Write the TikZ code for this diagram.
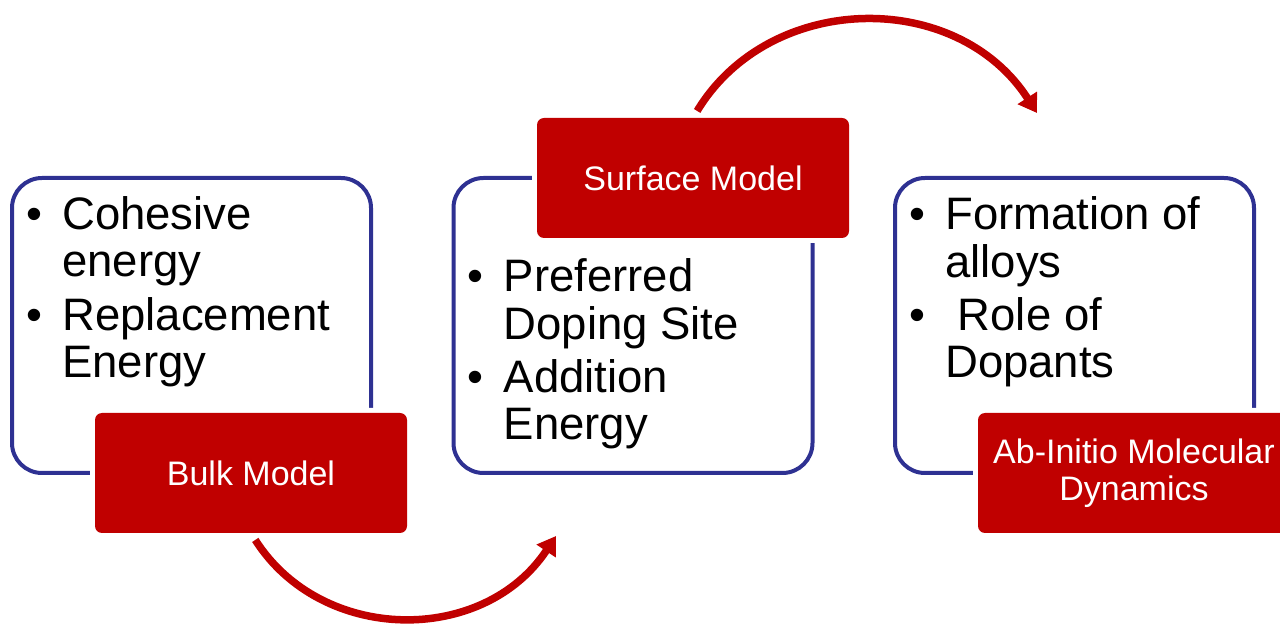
\documentclass[tikz,border=0pt]{standalone}
\usepackage{fontspec}
\setmainfont{Liberation Sans}
\usetikzlibrary{arrows.meta}
\definecolor{panelblue}{RGB}{46,49,146}
\definecolor{tagred}{RGB}{192,0,0}
\newcommand{\bul}{\makebox[36pt][l]{\textbullet}}

\begin{document}
\begin{tikzpicture}[
  x=1pt, y=1pt,
  panel/.style={rectangle, draw=panelblue, line width=4pt, rounded corners=30pt,
    minimum width=359pt, minimum height=295pt, inner sep=0pt, outer sep=0pt},
  list/.style={anchor=base west, inner sep=0pt, font=\fontsize{45.5}{47}\selectfont},
  tag/.style={rectangle, fill=tagred, rounded corners=7pt, text=white, align=center,
    minimum width=312pt, minimum height=120pt, inner sep=0pt,
    preaction={draw=white, line width=10pt}, font=\fontsize{34}{37}\selectfont},
  arr/.style={-{Triangle[length=18pt, width=22pt]}, line width=7.5pt, draw=tagred, shorten <=8pt}
]
\clip (0,0) rectangle (1280,624);

\node[panel] (p1) at (191.5,298.5) {};
\node[panel] (p2) at (633,298.5) {};
\node[panel] (p3) at (1074.5,298.5) {};

\node[list] (l1) at ([xshift=14pt, yshift=-52pt]p1.north west) {\begin{tabular}[t]{@{}l@{}l@{}}
  \bul & Cohesive\\ & energy\\[6pt] \bul & Replacement\\ & Energy\end{tabular}};
\node[list] (l2) at ([xshift=14pt, yshift=-114pt]p2.north west) {\begin{tabular}[t]{@{}l@{}l@{}}
  \bul & Preferred\\ & Doping Site\\[6pt] \bul & Addition\\ & Energy\end{tabular}};
\node[list] (l3) at ([xshift=14pt, yshift=-52pt]p3.north west) {\begin{tabular}[t]{@{}l@{}l@{}}
  \bul & Formation of\\ & alloys\\[6pt] \bul & \ Role of\\ & Dopants\end{tabular}};

\node[tag] (t1) at (251,151) {Bulk Model};
\node[tag] (t2) at (693,446) {Surface Model};
\node[tag] (t3) at (1134,151) {Ab-Initio Molecular\\Dynamics};

\coordinate (e1) at (556,88);
\coordinate (e2) at (1037,511);

\draw[arr] (t1.south) to[bend right=57, looseness=1.1] (e1);
\draw[arr] (t2.north) to[bend left=58, looseness=1.1] (e2);
\end{tikzpicture}
\end{document}
